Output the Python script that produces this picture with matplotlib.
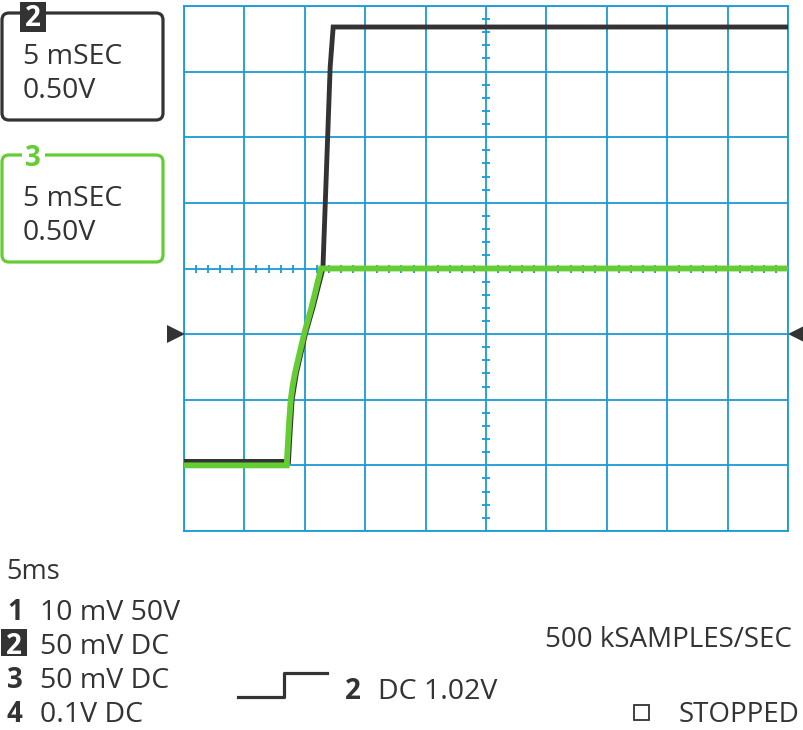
import numpy as np
import matplotlib.pyplot as plt
from matplotlib.patches import FancyBboxPatch, Rectangle

plt.rcParams['font.family'] = ['Open Sans', 'DejaVu Sans']

# trace data, in screen divisions (10 x 8, centre = 0)
ch2_x = [0, 1.73, 1.75, 1.79, 1.86, 2.01, 2.14, 2.30, 2.42, 2.47, 10]
ch2_y = [-2.94, -2.94, -2.6, -2.0, -1.6, -1.0, -0.58, 0, 3.07, 3.68, 3.68]
ch3_x = [0, 1.70, 1.715, 1.74, 1.767, 1.80, 1.838, 1.987, 2.114, 2.268, 10]
ch3_y = [-3.0, -3.0, -2.75, -2.35, -2.0, -1.78, -1.59, -1.0, -0.58, 0, 0]

box_labels = ['2', '3']
box_lines = ['5 mSEC', '0.50V']
chan_labels = ['1', '2', '3', '4']
chan_settings = ['10 mV 50V', '50 mV DC', '50 mV DC', '0.1V DC']
timebase = '5ms'
trigger_text = 'DC 1.02V'
sample_rate = '500 kSAMPLES/SEC'
status = 'STOPPED'

BLUE = '#1a9bd7'
GREEN = '#66cc33'
DARK = '#333333'

W, H = 804, 730
fig = plt.figure(figsize=(W / 100, H / 100), dpi=100)

# scope screen
gx0, gx1, gy0, gy1 = 184, 788, 6, 531
ax = fig.add_axes([gx0 / W, (H - gy1) / H, (gx1 - gx0) / W, (gy1 - gy0) / H])
ax.set_xlim(0, 10)
ax.set_ylim(-4, 4)
ax.set_xticks(range(11))
ax.set_yticks(range(-4, 5))
ax.tick_params(length=0, labelbottom=False, labelleft=False)
ax.grid(True, color=BLUE, lw=1.3)
for s in ax.spines.values():
    s.set_color(BLUE)
    s.set_linewidth(1.3)

minor = np.arange(0, 10.01, 0.2)
minor = minor[np.abs(minor - np.round(minor)) > 0.05]
ax.plot(minor, np.zeros_like(minor), ls='none', marker='|', ms=6,
        mew=1.3, color=BLUE)
minor_y = np.arange(-4, 4.01, 0.2)
minor_y = minor_y[np.abs(minor_y - np.round(minor_y)) > 0.05]
ax.plot(np.full_like(minor_y, 5), minor_y, ls='none', marker='_', ms=6,
        mew=1.3, color=BLUE)

ax.plot(ch2_x, ch2_y, color=DARK, lw=3.5, solid_joinstyle='miter', zorder=5)
ax.plot(ch3_x, ch3_y, color=GREEN, lw=4.2, solid_joinstyle='miter', zorder=6)

# annotation layer in pixel coords
ov = fig.add_axes([0, 0, 1, 1], zorder=10)
ov.set_xlim(0, W)
ov.set_ylim(H, 0)
ov.axis('off')
ov.patch.set_alpha(0)

# level markers
ov.plot([176], [334], marker='>', ms=12.5, color=DARK, mew=0)
ov.plot([797], [334], marker='<', ms=12.5, color=DARK, mew=0)

# channel boxes
for i, (lab, col) in enumerate(zip(box_labels, [DARK, GREEN])):
    top = 13 + i * 142
    ov.add_patch(FancyBboxPatch((2, top), 161, 107,
                                boxstyle='round,pad=0,rounding_size=7',
                                fc='white', ec=col, lw=2.3))
    if i == 0:
        ov.add_patch(Rectangle((20, 2), 26, 30, fc=DARK, ec='none', zorder=3))
        ov.text(33, 18, lab, color='white', fontsize=20, fontweight='bold',
                ha='center', va='center', zorder=4)
    else:
        ov.add_patch(Rectangle((22, top - 4), 23, 8, fc='white', ec='none',
                               zorder=3))
        ov.text(33, top + 4, lab, color=GREEN, fontsize=20, fontweight='bold',
                ha='center', va='center', zorder=4)
    ov.text(23, top + 51, box_lines[0], color=DARK, fontsize=20.5,
            va='baseline')
    ov.text(23, top + 85, box_lines[1], color=DARK, fontsize=20.5,
            va='baseline')

# bottom readouts
ov.text(6, 579, timebase, color=DARK, fontsize=19.5, va='baseline')
for i, (lab, txt) in enumerate(zip(chan_labels, chan_settings)):
    base = 620 + i * 34
    if lab == '2':
        ov.add_patch(Rectangle((1, base - 25), 26, 27, fc=DARK, ec='none'))
        ov.text(14, base, lab, color='white', fontsize=20, fontweight='bold',
                ha='center', va='baseline')
    else:
        ov.text(7, base, lab, color=DARK, fontsize=20, fontweight='bold',
                va='baseline')
    ov.text(40, base, txt, color=DARK, fontsize=20.5, va='baseline')

ov.plot([238, 284, 284, 327], [697, 697, 673, 673], color=DARK, lw=2.3)
ov.text(345, 699, '2', color=DARK, fontsize=20, fontweight='bold',
        va='baseline')
ov.text(378, 699, trigger_text, color=DARK, fontsize=20.5, va='baseline')

ov.text(792, 647, sample_rate, color=DARK, fontsize=20, ha='right',
        va='baseline')
ov.add_patch(Rectangle((634, 705), 15, 15, fc='none', ec=DARK, lw=1.3))
ov.text(800, 722, status, color=DARK, fontsize=20, ha='right', va='baseline')

fig.savefig('out.png', dpi=100)
